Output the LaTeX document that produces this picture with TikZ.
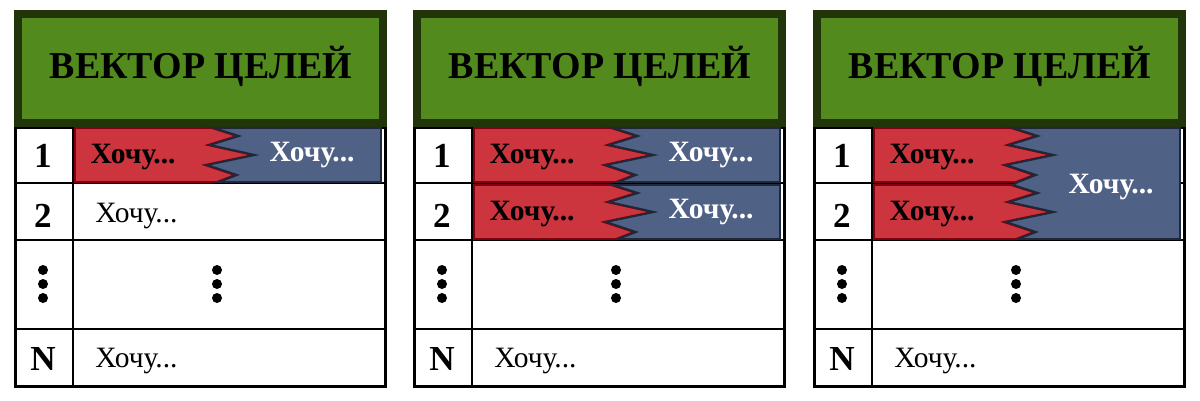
\documentclass[tikz,border=0pt]{standalone}
\usepackage{fontspec}
\setmainfont{Liberation Serif}
\usetikzlibrary{positioning}
\definecolor{hdrgreen}{RGB}{82,138,29}
\definecolor{hdrdark}{RGB}{33,52,10}
\definecolor{wishred}{RGB}{204,52,62}
\definecolor{wishredline}{RGB}{128,0,16}
\definecolor{wishblue}{RGB}{79,97,132}
\definecolor{wishblueline}{RGB}{31,40,56}
\tikzset{
  header/.style   = {draw=hdrdark, fill=hdrgreen, line width=4.5pt,
                     minimum width=7.3cm, minimum height=2.18cm, inner sep=0pt},
  title/.style    = {anchor=base, inner sep=0pt, font=\fontsize{21.6}{24}\selectfont\bfseries},
  frame/.style    = {draw=black, line width=1.7pt},
  grid/.style     = {draw=black, line width=0.85pt},
  num/.style      = {anchor=base, inner sep=0pt, font=\fontsize{20}{22}\selectfont\bfseries},
  wish/.style     = {anchor=base west, inner sep=0pt, font=\fontsize{16.8}{18}\selectfont},
  redwish/.style  = {anchor=base, inner sep=0pt, font=\fontsize{16.8}{18}\selectfont\bfseries},
  bluewish/.style = {redwish, text=white},
  redpart/.style  = {fill=wishred, draw=wishredline, line width=1.1pt, line join=miter},
  bluepart/.style = {fill=wishblue, draw=wishblueline, line width=1.1pt, line join=miter},
  zig/.style 2 args = {insert path={-- (212+#2,#1) -- (237+#2,#1+8) -- (208+#2,#1+17)
                     -- (253+#2,#1+27) -- (205+#2,#1+37) -- (235+#2,#1+47) -- (217+#2,#1+54)}},
}

\begin{document}
\begin{tikzpicture}[x=0.02cm, y=-0.02cm]
  \useasboundingbox (0,0) rectangle (1200,400);
  % three tables
  \foreach \p/\dx in {a/0, b/399, c/799} {
    \begin{scope}[shift={(\dx,0)}]
      \draw[grid] (73,127) -- (73,387);
      \foreach \yl in {183,240,329} \draw[grid] (15,\yl) -- (386,\yl);
      \draw[frame] (15.5,127) rectangle (385.5,386.5);
      \node[header] (head\p) at (200.5,68.5) {};
      \node[title] (title\p) at (201,78) {ВЕКТОР ЦЕЛЕЙ};
      \node[num] (one\p) at (43,167) {1};
      \node[num] (two\p) at (43,227) {2};
      \node[num] (last\p) at (43,370) {N};
      \node[wish] (wishN\p) at (95,367) {Хочу...};
      \foreach \yd in {270,284,298} {
        \fill (43,\yd) circle (5);
        \fill (217,\yd) circle (5);
      }
    \end{scope}
  }
  % first table: one split goal
  \filldraw[redpart] (75,128) [zig={128}{0}] -- (75,182) -- cycle;
  \filldraw[bluepart] (381,128) [zig={128}{2}] -- (381,182) -- cycle;
  \node[redwish] (red1a) at (133,163) {Хочу...};
  \node[bluewish] (blue1a) at (312,161) {Хочу...};
  \node[wish] (wish2a) at (95,222) {Хочу...};
  % second table: two split goals
  \begin{scope}[shift={(399,0)}]
  \foreach \yt/\r in {128/1, 185/2} {
    \filldraw[redpart] (75,\yt) [zig={\yt}{0}] -- (75,\yt+54) -- cycle;
    \filldraw[bluepart] (381,\yt) [zig={\yt}{2}] -- (381,\yt+54) -- cycle;
    \node[redwish] (red\r b) at (133,\yt+35) {Хочу...};
    \node[bluewish] (blue\r b) at (312,\yt+33) {Хочу...};
  }
  \end{scope}
  % third table: two goals, one shared
  \begin{scope}[shift={(799,0)}]
  \foreach \yt/\r in {128/1, 185/2} {
    \filldraw[redpart] (75,\yt) [zig={\yt}{0}] -- (75,\yt+54) -- cycle;
    \node[redwish] (red\r c) at (133,\yt+35) {Хочу...};
  }
  \filldraw[bluepart] (381,128) [zig={128}{2}] [zig={185}{2}] -- (381,239) -- cycle;
  \node[bluewish] (bluec) at (312,193) {Хочу...};
  \end{scope}
\end{tikzpicture}
\end{document}
